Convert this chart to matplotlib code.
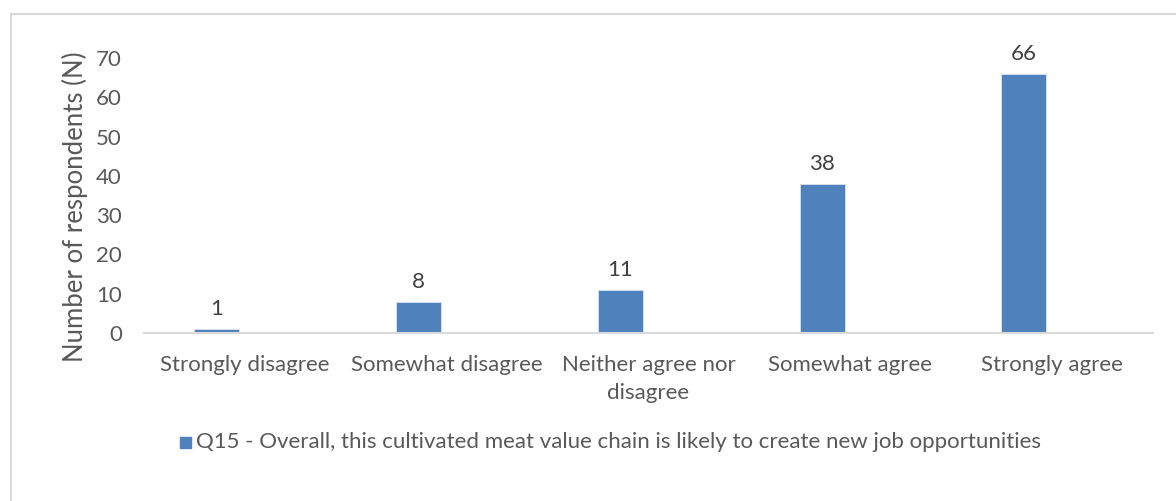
import numpy as np
import matplotlib.pyplot as plt
from matplotlib.lines import Line2D
from matplotlib.patches import Rectangle

categories = ["Strongly disagree", "Somewhat disagree", "Neither agree nor\ndisagree",
              "Somewhat agree", "Strongly agree"]
counts = [1, 8, 11, 38, 66]
series_name = "Q15 - Overall, this cultivated meat value chain is likely to create new job opportunities"

BAR_COLOR = "#4f81bd"
TEXT_COLOR = "#595959"
GRID_COLOR = "#d9d9d9"

plt.rcParams['font.family'] = ['Lato', 'DejaVu Sans']
FS = 16

fig = plt.figure(figsize=(11.76, 5.01), dpi=100)
ax = fig.add_axes([144 / 1176, 1 - 333 / 501, (1153 - 144) / 1176, (333 - 58) / 501])

x = np.arange(len(categories))
bars = ax.bar(x - 0.14, counts, width=0.223, color=BAR_COLOR, edgecolor="#d9e3f0", linewidth=0.6)

for b, v in zip(bars, counts):
    ax.annotate(str(v), (b.get_x() + b.get_width() / 2, v), xytext=(0, 7),
                textcoords="offset points", ha="center", va="bottom",
                fontsize=FS, color="#404040")

ax.set_xlim(-0.5, len(categories) - 0.5)
ax.set_ylim(0, 70)
ax.set_yticks(range(0, 71, 10))
ax.set_xticks(x)
ax.set_xticklabels(categories, fontsize=FS, color=TEXT_COLOR, linespacing=1.5)
ax.tick_params(axis="y", labelsize=FS, labelcolor=TEXT_COLOR, length=0, pad=16)
ax.tick_params(axis="x", length=0, pad=16)

for s in ["top", "right", "left"]:
    ax.spines[s].set_visible(False)
ax.spines["bottom"].set_color(GRID_COLOR)
ax.spines["bottom"].set_linewidth(1.5)

fig.text(75 / 1176, 1 - 207 / 501, "Number of respondents (N)", rotation=90,
         fontsize=18.5, color=TEXT_COLOR, ha="center", va="center")

# legend: square marker plus series name
fig.patches.append(Rectangle((180 / 1176, 1 - 448 / 501), 11 / 1176, 11 / 501,
                             transform=fig.transFigure, color=BAR_COLOR))
fig.text(196 / 1176, 1 - 442 / 501, series_name, fontsize=FS, color=TEXT_COLOR,
         va="center", ha="left")

# chart area border (top and left edges visible)
fig.add_artist(Line2D([11 / 1176, 1], [1 - 14 / 501, 1 - 14 / 501],
                      transform=fig.transFigure, color=GRID_COLOR, linewidth=1.5))
fig.add_artist(Line2D([11 / 1176, 11 / 1176], [0, 1 - 14 / 501],
                      transform=fig.transFigure, color=GRID_COLOR, linewidth=1.5))

fig.savefig("out.png", dpi=100, facecolor="white")
